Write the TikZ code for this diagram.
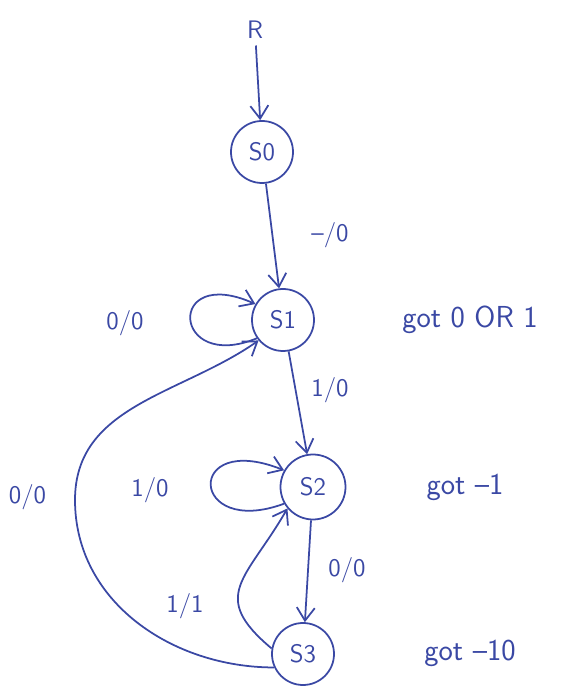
\documentclass[tikz,border=0pt]{standalone}
\usetikzlibrary{positioning,arrows.meta}
\definecolor{ink}{HTML}{3A48A4}

\begin{document}
\begin{tikzpicture}[>={Straight Barb[length=2.6mm,width=3.6mm]},
  color=ink, line width=1pt,
  every node/.style={font=\sffamily\Large},
  state/.style={circle,draw,minimum size=1.24cm,inner sep=0pt},
  note/.style={font=\sffamily\LARGE}]
  \useasboundingbox (0,0) rectangle (11.48,13.74);
  % states
  \node (r) at (5.1,13.14) {R};
  \node[state] (s0) at (5.24,10.7) {S0};
  \node[state] (s1) at (5.66,7.34) {S1};
  \node[state,minimum size=1.3cm] (s2) at (6.26,4.0) {S2};
  \node[state] (s3) at (6.06,0.66) {S3};
  % transitions
  \draw[->] (r) -- (s0);
  \draw[->] (s0) -- (s1);
  \draw[->] (s1) -- (s2);
  \draw[->] (s2) -- (s3);
  \draw[->] (s1.215) .. controls +(-1.7,-0.7) and +(-1.8,0.8) .. (s1.150);
  \draw[->] (s2.210) .. controls +(-1.9,-0.7) and +(-2.0,0.8) .. (s2.150);
  \draw[->] (s3.170) to[out=140,in=240,looseness=1.5] (s2.220);
  \coordinate (bend) at (1.5,3.74);
  \draw[->] (s3.205) to[out=180,in=270] (bend) to[out=90,in=215] (s1.220);
  % labels
  \node (l01) at (6.6,9.04) {--/0};
  \node (l11) at (2.5,7.28) {0/0};
  \node (l12) at (6.6,5.94) {1/0};
  \node (l22) at (3.0,3.94) {1/0};
  \node (l31) at (0.55,3.8) {0/0};
  \node (l23) at (6.94,2.34) {0/0};
  \node (l32) at (3.7,1.62) {1/1};
  \node[note] (g1) at (9.4,7.34) {got 0 OR 1};
  \node[note] (g2) at (9.3,4.0) {got --1};
  \node[note] (g3) at (9.4,0.68) {got --10};
\end{tikzpicture}
\end{document}
